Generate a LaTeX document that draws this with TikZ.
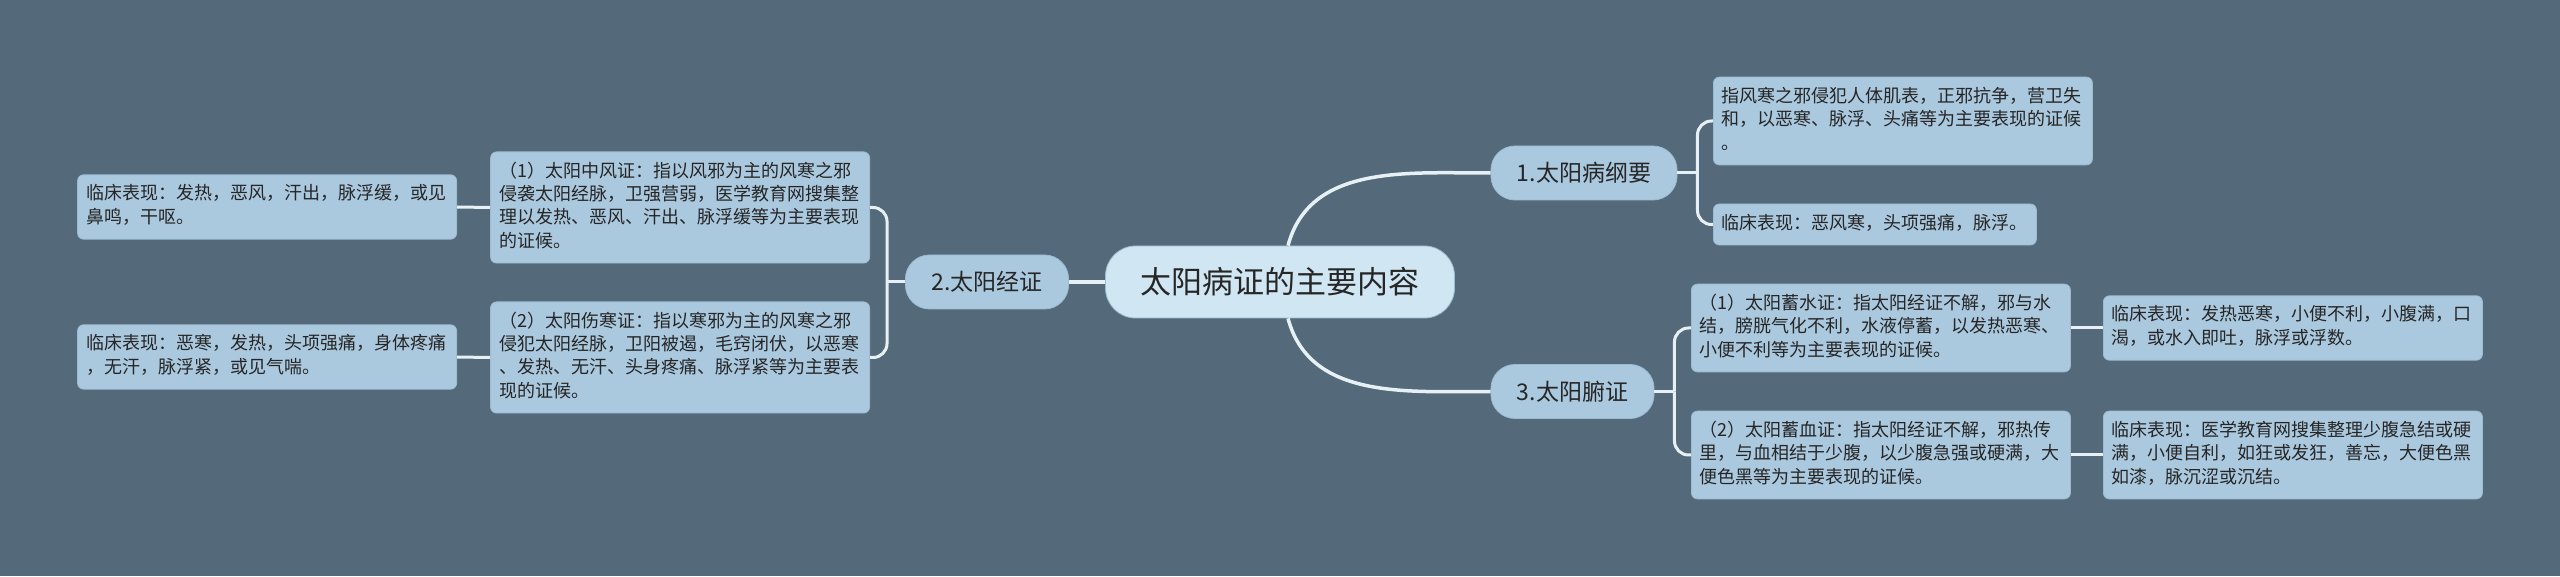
\documentclass[tikz,border=0pt]{standalone}
\usepackage{fontspec}
\setmainfont{Noto Sans CJK SC}
\definecolor{bgc}{HTML}{546A7A}
\definecolor{linec}{HTML}{E6F0F5}
\definecolor{rootc}{HTML}{D0E6F2}
\definecolor{boxc}{HTML}{AAC8DE}
\definecolor{edgec}{HTML}{9CBAD0}
\definecolor{txtc}{HTML}{262626}
\begin{document}
\begin{tikzpicture}[x=1pt, y=1pt,
    link/.style={draw=linec, line width=3pt},
    root/.style={fill=rootc, draw=edgec, line width=0.8pt, rounded corners=30pt, text=txtc,
        font=\fontsize{31}{36}\selectfont, inner xsep=35pt, minimum height=72pt},
    topic/.style={fill=boxc, draw=edgec, line width=0.8pt, rounded corners=24pt, text=txtc,
        font=\fontsize{23}{28}\selectfont, inner xsep=26pt, minimum height=54pt},
    leaf/.style={fill=boxc, draw=edgec, line width=0.8pt, rounded corners=6pt, text=txtc,
        font=\fontsize{18}{23.4}\selectfont, inner xsep=8.5pt, inner ysep=8.8pt,
        execute at begin node=\strut, execute at end node=\strut},
    wrap/.style={leaf, text width=362pt, align=left}]
    \fill[bgc] (0,0) rectangle (2560,576);
    \useasboundingbox (0,0) rectangle (2560,576);
    % main topic and branches
    \node[root] (main) at (1280,294) {太阳病证的主要内容};
    \node[topic] (gang) at (1584,403) {1.太阳病纲要};
    \node[topic] (jing) at (987,294) {2.太阳经证};
    \node[topic] (fu) at (1572.5,184.5) {3.太阳腑证};
    % 1.
    \node[wrap, anchor=west] (gangA) at (1713,455) {指风寒之邪侵犯人体肌表，正邪抗争，营卫失\\和，以恶寒、脉浮、头痛等为主要表现的证候\\。};
    \node[leaf, anchor=west] (gangB) at (1713,351.5) {临床表现：恶风寒，头项强痛，脉浮。};
    % 2.
    \node[wrap, anchor=east] (zhong) at (870,368.5) {（1）太阳中风证：指以风邪为主的风寒之邪\\侵袭太阳经脉，卫强营弱，医学教育网搜集整\\理以发热、恶风、汗出、脉浮缓等为主要表现\\的证候。};
    \node[wrap, anchor=east] (shang) at (870,218.5) {（2）太阳伤寒证：指以寒邪为主的风寒之邪\\侵犯太阳经脉，卫阳被遏，毛窍闭伏，以恶寒\\、发热、无汗、头身疼痛、脉浮紧等为主要表\\现的证候。};
    \node[wrap, anchor=east] (zhongL) at (457,369) {临床表现：发热，恶风，汗出，脉浮缓，或见\\鼻鸣，干呕。};
    \node[wrap, anchor=east] (shangL) at (457,219) {临床表现：恶寒，发热，头项强痛，身体疼痛\\，无汗，脉浮紧，或见气喘。};
    % 3.
    \node[wrap, anchor=west] (xushui) at (1691,248) {（1）太阳蓄水证：指太阳经证不解，邪与水\\结，膀胱气化不利，水液停蓄，以发热恶寒、\\小便不利等为主要表现的证候。};
    \node[wrap, anchor=west] (xuxue) at (1691,121) {（2）太阳蓄血证：指太阳经证不解，邪热传\\里，与血相结于少腹，以少腹急强或硬满，大\\便色黑等为主要表现的证候。};
    \node[wrap, anchor=west] (xushuiL) at (2103,248) {临床表现：发热恶寒，小便不利，小腹满，口\\渴，或水入即吐，脉浮或浮数。};
    \node[wrap, anchor=west] (xuxueL) at (2103,121) {临床表现：医学教育网搜集整理少腹急结或硬\\满，小便自利，如狂或发狂，善忘，大便色黑\\如漆，脉沉涩或沉结。};
    % connectors
    \draw[link, line width=3.5pt] (main.west) -- (jing.east);
    \draw[link, line width=3.5pt] ([xshift=8pt]main.north) to[out=75, in=180] (gang.west);
    \draw[link, line width=3.5pt] ([xshift=8pt]main.south) to[out=-75, in=180] (fu.west);
    \draw[link] (gang.east) -- ++(20,0) coordinate (gangJ);
    \draw[link, rounded corners=14pt] (gangJ) |- (gangA.west);
    \draw[link, rounded corners=14pt] (gangJ) |- (gangB.west);
    \draw[link] (jing.west) -- ++(-18,0) coordinate (jingJ);
    \draw[link, rounded corners=14pt] (jingJ) |- (zhong.east);
    \draw[link, rounded corners=14pt] (jingJ) |- (shang.east);
    \draw[link] (fu.east) -- ++(20,0) coordinate (fuJ);
    \draw[link, rounded corners=14pt] (fuJ) |- (xushui.west);
    \draw[link, rounded corners=14pt] (fuJ) |- (xuxue.west);
    \draw[link] (zhong.west) -- (zhongL.east);
    \draw[link] (shang.west) -- (shangL.east);
    \draw[link] (xushui.east) -- (xushuiL.west);
    \draw[link] (xuxue.east) -- (xuxueL.west);
\end{tikzpicture}
\end{document}
